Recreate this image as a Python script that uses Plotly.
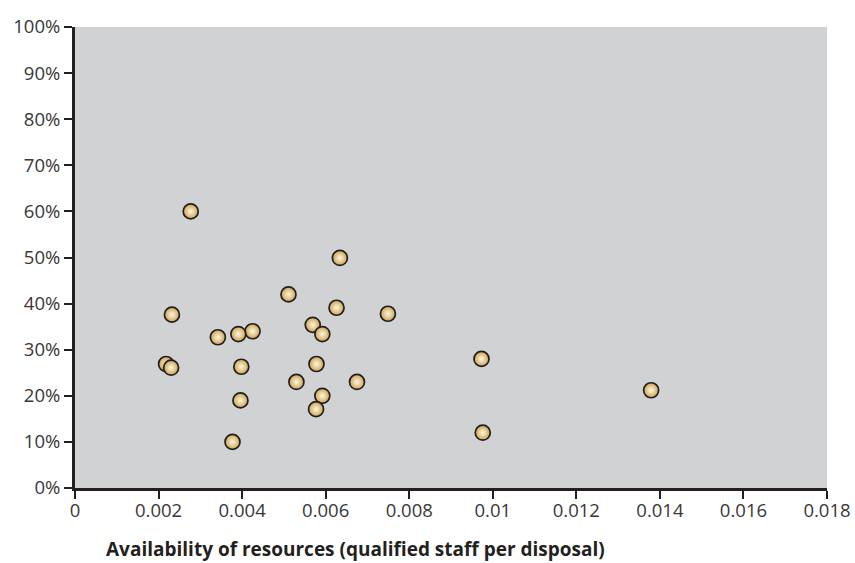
import plotly.graph_objects as go

# Data
staff_per_disposal = [0.00277, 0.00634, 0.00511, 0.00626, 0.00749, 0.00232, 0.00569, 0.00592,
                      0.00425, 0.00391, 0.00342, 0.00218, 0.00230, 0.00398, 0.00578, 0.00973,
                      0.00530, 0.00675, 0.01379, 0.00592, 0.00396, 0.00577, 0.00976, 0.00377]
share = [0.600, 0.499, 0.420, 0.391, 0.378, 0.376, 0.354, 0.334,
         0.340, 0.334, 0.327, 0.269, 0.261, 0.263, 0.269, 0.280,
         0.230, 0.230, 0.212, 0.200, 0.190, 0.171, 0.120, 0.100]

x_tickvals = [0, 0.002, 0.004, 0.006, 0.008, 0.01, 0.012, 0.014, 0.016, 0.018]
x_ticktext = ["0", "0.002", "0.004", "0.006", "0.008", "0.01", "0.012", "0.014", "0.016", "0.018"]
y_tickvals = [0, 0.1, 0.2, 0.3, 0.4, 0.5, 0.6, 0.7, 0.8, 0.9, 1.0]
y_ticktext = ["0%", "10%", "20%", "30%", "40%", "50%", "60%", "70%", "80%", "90%", "100%"]
x_title = "Availability of resources (qualified staff per disposal)"

font_family = "Open Sans, DejaVu Sans, sans-serif"
axis_color = "#231f20"
text_color = "#383838"

fig = go.Figure()
fig.add_trace(go.Scatter(
    x=staff_per_disposal, y=share, mode="markers",
    marker=dict(size=15, color="#cda24e",
                gradient=dict(type="radial", color="#fff8e4"),
                line=dict(color="#231f20", width=1.7)),
    showlegend=False, hoverinfo="x+y",
))

fig.update_layout(
    width=855, height=563,
    margin=dict(l=75, r=28, t=27, b=75, autoexpand=False),
    paper_bgcolor="white",
    plot_bgcolor="#d1d2d4",
    font=dict(family=font_family, size=18.5, color=text_color),
    xaxis=dict(range=[0, 0.018], tickvals=x_tickvals, ticktext=x_ticktext, automargin=False,
               showgrid=False, zeroline=False, showline=True, linecolor=axis_color,
               linewidth=3, ticks="outside", ticklen=8, tickwidth=1.5, tickcolor=axis_color,
               ticklabelstandoff=-4,
               tickfont=dict(size=18.5, color=text_color)),
    yaxis=dict(range=[0, 1], tickvals=y_tickvals, ticktext=y_ticktext, automargin=False,
               showgrid=False, zeroline=False, showline=True, linecolor=axis_color,
               linewidth=3, ticks="outside", ticklen=8, tickwidth=1.5, tickcolor=axis_color,
               tickfont=dict(size=18.5, color=text_color)),
    annotations=[dict(text="<b>" + x_title + "</b>", xref="paper", yref="paper",
                      x=(104 - 75) / (855 - 75 - 28), y=-(549 - 488) / (563 - 27 - 75),
                      xanchor="left", yanchor="middle", showarrow=False,
                      font=dict(size=19, color="#231f20", family=font_family))],
)

fig.write_html("out.html", config={"displayModeBar": False},
               post_script="document.body.style.margin='0';")
